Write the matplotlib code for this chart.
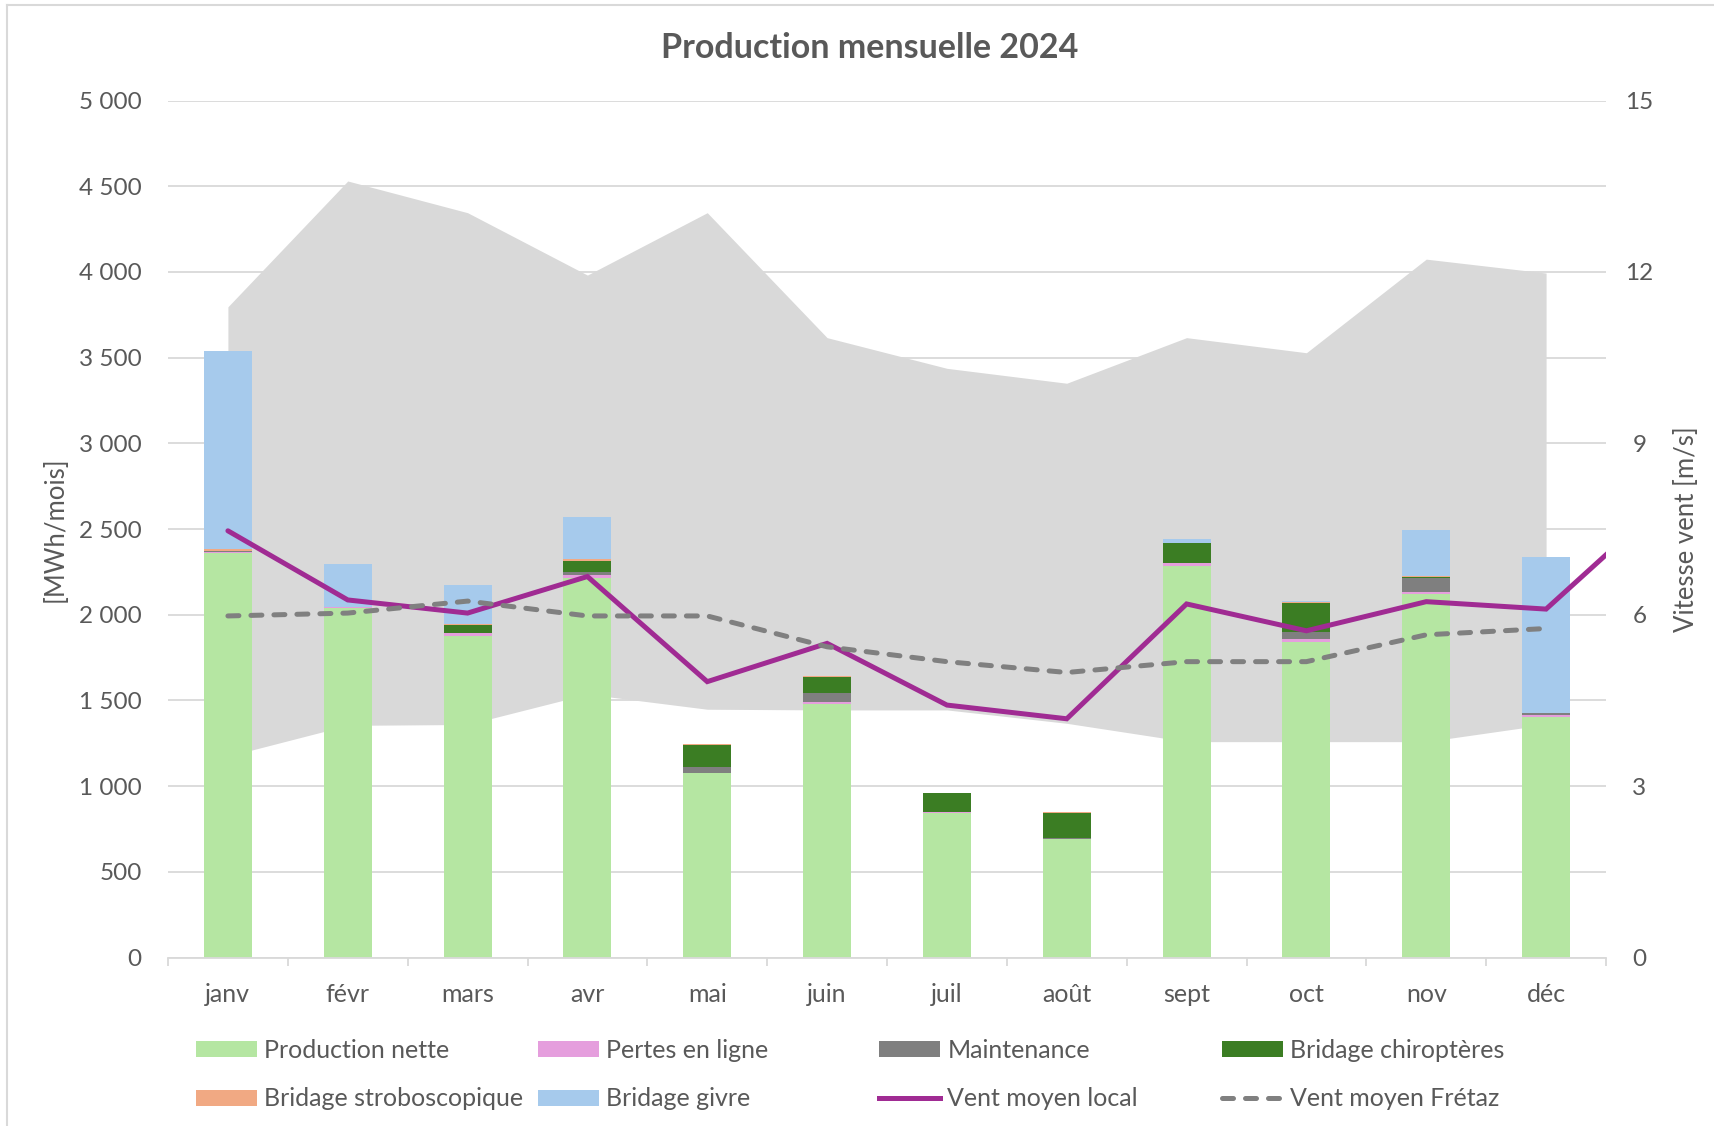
import matplotlib
matplotlib.use("Agg")
import matplotlib.pyplot as plt
import numpy as np
from matplotlib.patches import Patch
from matplotlib.lines import Line2D
from matplotlib.ticker import FuncFormatter, FixedLocator

plt.rcParams['font.family'] = ['Lato', 'DejaVu Sans']

# ---------------- data ----------------
months = ["janv", "févr", "mars", "avr", "mai", "juin", "juil", "août", "sept", "oct", "nov", "déc"]

production_nette = [2359, 2038, 1876, 2216, 1075, 1478, 845, 692, 2287, 1843, 2121, 1406]
pertes_en_ligne = [8, 9, 16, 16, 0, 11, 6, 0, 13, 14, 14, 9]
maintenance = [8, 0, 0, 16, 39, 53, 0, 6, 0, 44, 78, 10]
bridage_chiropteres = [0, 0, 48, 68, 126, 93, 108, 144, 121, 170, 9, 0]
bridage_strobo = [8, 0, 6, 8, 6, 10, 3, 7, 0, 5, 4, 0]
bridage_givre = [1158, 249, 226, 245, 0, 0, 0, 0, 19, 6, 269, 910]

# historical range band (MWh/mois)
band_low = [1175, 1355, 1360, 1537, 1449, 1445, 1445, 1367, 1260, 1260, 1260, 1360]
band_high = [3797, 4531, 4346, 3982, 4346, 3617, 3438, 3351, 3617, 3529, 4075, 3994]

# wind speeds (m/s); local series has a 13th point beyond the axis
vent_local = [7.47, 6.26, 6.03, 6.67, 4.83, 5.50, 4.42, 4.18, 6.19, 5.72, 6.23, 6.10, 8.0]
vent_fretaz = [5.98, 6.03, 6.24, 5.98, 5.98, 5.44, 5.18, 4.99, 5.18, 5.18, 5.65, 5.76]

series = [
    ("Production nette", production_nette, "#B5E6A2"),
    ("Pertes en ligne", pertes_en_ligne, "#E59EDD"),
    ("Maintenance", maintenance, "#7F7F7F"),
    ("Bridage chiroptères", bridage_chiropteres, "#3B7D23"),
    ("Bridage stroboscopique", bridage_strobo, "#F1A983"),
    ("Bridage givre", bridage_givre, "#A6CAEC"),
]

TXT = "#595959"
GRID = "#D9D9D9"

W, H = 1714, 1126
fig = plt.figure(figsize=(W / 100, H / 100), dpi=100)
ax = fig.add_axes([168 / W, 1 - 957.6 / H, (1606 - 168) / W, (957.6 - 100.6) / H])
ax2 = ax.twinx()

x = np.arange(len(months))

# band
ax.fill_between(x, band_low, band_high, color="#D9D9D9", lw=0, zorder=1)

# stacked bars
bottom = np.zeros(len(months))
for name, vals, col in series:
    ax.bar(x, vals, width=0.4, bottom=bottom, color=col, lw=0, zorder=2)
    bottom += np.array(vals, dtype=float)

# lines
lw = 3.6
ax2.plot(np.arange(len(vent_local)), vent_local, color="#A02B93", lw=lw,
         solid_capstyle="round", solid_joinstyle="miter", zorder=3)
ax2.plot(x, vent_fretaz, color="#808080", lw=lw, dashes=(2.2, 2.4),
         dash_capstyle="round", zorder=3)

# axes formatting
ax.set_xlim(-0.5, 11.5)
ax.set_ylim(0, 5000)
ax2.set_ylim(0, 15)
ax.set_yticks(np.arange(0, 5001, 500))
ax2.set_yticks(np.arange(0, 16, 3))
ax.yaxis.set_major_formatter(FuncFormatter(lambda v, p: f"{int(v):,}".replace(",", " ")))

ax.set_axisbelow(True)
ax.grid(axis="y", color=GRID, lw=1.3, zorder=0)
ax.grid(axis="x", visible=False)

for s in ["top", "right", "left"]:
    ax.spines[s].set_visible(False)
for s in ["top", "right", "left", "bottom"]:
    ax2.spines[s].set_visible(False)
ax.spines["bottom"].set_color(GRID)
ax.spines["bottom"].set_linewidth(1.3)

ax.set_xticks(x)
ax.set_xticklabels(months)
ax.xaxis.set_minor_locator(FixedLocator(np.arange(-0.5, 12, 1.0)))
ax.tick_params(axis="x", which="major", length=0, pad=18.5, labelsize=18, labelcolor=TXT)
ax.tick_params(axis="x", which="minor", length=6, width=1.3, color=GRID, direction="out")
ax.tick_params(axis="y", length=0, pad=19, labelsize=17.5, labelcolor=TXT)
ax2.tick_params(axis="y", length=0, pad=24, labelsize=17.5, labelcolor=TXT)
for t in ax2.get_yticklabels():
    t.set_horizontalalignment("center")

# titles / labels
fig.text(870 / W, 1 - 48 / H, "Production mensuelle 2024", ha="center", va="center",
         fontsize=24.5, fontweight="bold", color=TXT)
fig.text(55 / W, 1 - 529 / H, "[MWh/mois]", rotation=90, ha="center", va="center",
         fontsize=18.5, color=TXT)
fig.text(1687 / W, 1 - 529 / H, "Vitesse vent [m/s]", rotation=90, ha="center", va="center",
         fontsize=18.5, color=TXT)

# legend (8 entries in a 4x2 grid)
handles = [Patch(facecolor=c, edgecolor="none") for _, _, c in series]
handles.append(Line2D([], [], color="#A02B93", lw=lw))
handles.append(Line2D([], [], color="#808080", lw=lw, dashes=(2.2, 2.4), dash_capstyle="round"))
labels = [n for n, _, _ in series] + ["Vent moyen local", "Vent moyen Frétaz"]
col_x = [196, 537.6, 879, 1221.8]
row_y = [1050, 1099]
for i, (h, l) in enumerate(zip(handles, labels)):
    r, c = divmod(i, 4)
    fig.legend(handles=[h], labels=[l], loc="center left",
               bbox_to_anchor=(col_x[c] / W, 1 - row_y[r] / H),
               frameon=False, borderpad=0, borderaxespad=0,
               handlelength=2.45, handleheight=0.62, handletextpad=0.28,
               fontsize=18, labelcolor=TXT)

# chart border (top and left visible)
fig.add_artist(Line2D([7 / W, 7 / W], [0, 1 - 5 / H], color=GRID, lw=1.5, transform=fig.transFigure))
fig.add_artist(Line2D([7 / W, 1], [1 - 5 / H, 1 - 5 / H], color=GRID, lw=1.5, transform=fig.transFigure))

fig.savefig("out.png", dpi=100)
